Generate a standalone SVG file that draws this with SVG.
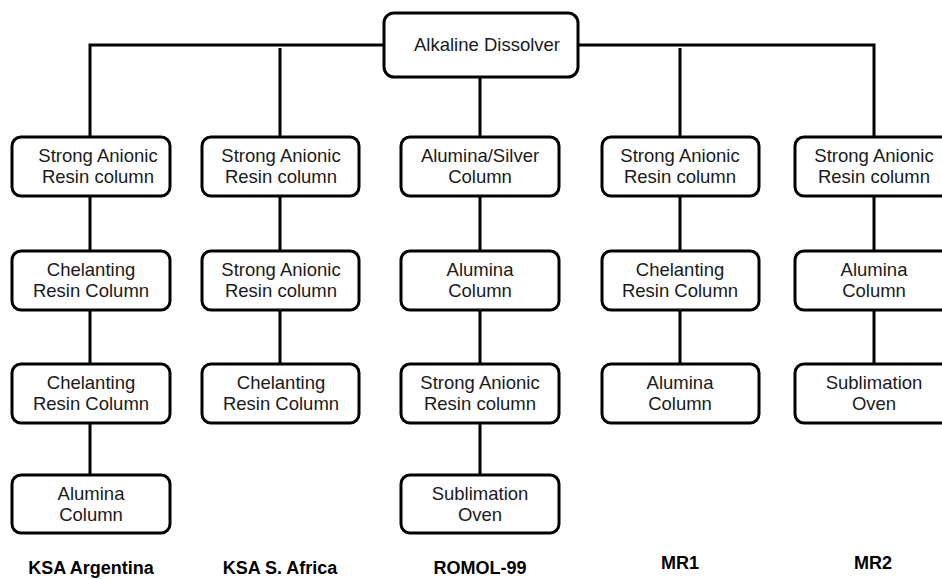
<svg xmlns="http://www.w3.org/2000/svg" width="942" height="579" viewBox="0 0 942 579">
<style>
.box{fill:#fff;stroke:#000;stroke-width:3}
.ln{stroke:#000;stroke-width:3;fill:none}
.t{font-family:"Liberation Sans",Arial,sans-serif;font-size:18.5px;fill:#1a1a1a;text-anchor:middle}
.lab{font-family:"Liberation Sans",Arial,sans-serif;font-size:18px;font-weight:bold;fill:#000;text-anchor:middle}
</style>
<rect width="942" height="579" fill="#fff"/>
<g id="connectors">
<path class="ln" d="M90,137 V45 H384 M578,45 H874 V137"/>
<path class="ln" d="M280,48 V137 M680,48 V137 M480,77 V137"/>
<path class="ln" d="M90,196 V251 M90,310 V364 M90,423 V475"/>
<path class="ln" d="M280,196 V251 M280,310 V364"/>
<path class="ln" d="M480,196 V251 M480,310 V364 M480,423 V475"/>
<path class="ln" d="M680,196 V251 M680,310 V364"/>
<path class="ln" d="M874,196 V251 M874,310 V364"/>
</g>
<g id="top"><rect class="box" x="384" y="13" width="194" height="64" rx="10"/><text class="t" x="487" y="51">Alkaline Dissolver</text></g>
<g id="c1r1"><rect class="box" x="12" y="137" width="158" height="59" rx="9"/><text class="t" x="98" y="162">Strong Anionic</text><text class="t" x="98" y="183">Resin column</text></g>
<g id="c1r2"><rect class="box" x="12" y="251" width="158" height="59" rx="9"/><text class="t" x="91" y="276">Chelanting</text><text class="t" x="91" y="297">Resin Column</text></g>
<g id="c1r3"><rect class="box" x="12" y="364" width="158" height="59" rx="9"/><text class="t" x="91" y="389">Chelanting</text><text class="t" x="91" y="410">Resin Column</text></g>
<g id="c1r4"><rect class="box" x="12" y="475" width="158" height="58" rx="9"/><text class="t" x="91" y="500">Alumina</text><text class="t" x="91" y="521">Column</text></g>
<g id="c2r1"><rect class="box" x="202" y="137" width="157" height="59" rx="9"/><text class="t" x="281" y="162">Strong Anionic</text><text class="t" x="281" y="183">Resin column</text></g>
<g id="c2r2"><rect class="box" x="202" y="251" width="157" height="59" rx="9"/><text class="t" x="281" y="276">Strong Anionic</text><text class="t" x="281" y="297">Resin column</text></g>
<g id="c2r3"><rect class="box" x="202" y="364" width="157" height="59" rx="9"/><text class="t" x="281" y="389">Chelanting</text><text class="t" x="281" y="410">Resin Column</text></g>
<g id="c3r1"><rect class="box" x="401" y="137" width="158" height="59" rx="9"/><text class="t" x="480" y="162">Alumina/Silver</text><text class="t" x="480" y="183">Column</text></g>
<g id="c3r2"><rect class="box" x="401" y="251" width="158" height="59" rx="9"/><text class="t" x="480" y="276">Alumina</text><text class="t" x="480" y="297">Column</text></g>
<g id="c3r3"><rect class="box" x="401" y="364" width="158" height="59" rx="9"/><text class="t" x="480" y="389">Strong Anionic</text><text class="t" x="480" y="410">Resin column</text></g>
<g id="c3r4"><rect class="box" x="401" y="475" width="158" height="58" rx="9"/><text class="t" x="480" y="500">Sublimation</text><text class="t" x="480" y="521">Oven</text></g>
<g id="c4r1"><rect class="box" x="602" y="137" width="157" height="59" rx="9"/><text class="t" x="680" y="162">Strong Anionic</text><text class="t" x="680" y="183">Resin column</text></g>
<g id="c4r2"><rect class="box" x="602" y="251" width="157" height="59" rx="9"/><text class="t" x="680" y="276">Chelanting</text><text class="t" x="680" y="297">Resin Column</text></g>
<g id="c4r3"><rect class="box" x="602" y="364" width="157" height="59" rx="9"/><text class="t" x="680" y="389">Alumina</text><text class="t" x="680" y="410">Column</text></g>
<g id="c5r1"><rect class="box" x="795" y="137" width="158" height="59" rx="9"/><text class="t" x="874" y="162">Strong Anionic</text><text class="t" x="874" y="183">Resin column</text></g>
<g id="c5r2"><rect class="box" x="795" y="251" width="158" height="59" rx="9"/><text class="t" x="874" y="276">Alumina</text><text class="t" x="874" y="297">Column</text></g>
<g id="c5r3"><rect class="box" x="795" y="364" width="158" height="59" rx="9"/><text class="t" x="874" y="389">Sublimation</text><text class="t" x="874" y="410">Oven</text></g>
<g id="labels">
<text class="lab" x="91" y="574">KSA Argentina</text>
<text class="lab" x="280" y="574">KSA S. Africa</text>
<text class="lab" x="480" y="574">ROMOL-99</text>
<text class="lab" x="680" y="569">MR1</text>
<text class="lab" x="873" y="569">MR2</text>
</g>
</svg>
